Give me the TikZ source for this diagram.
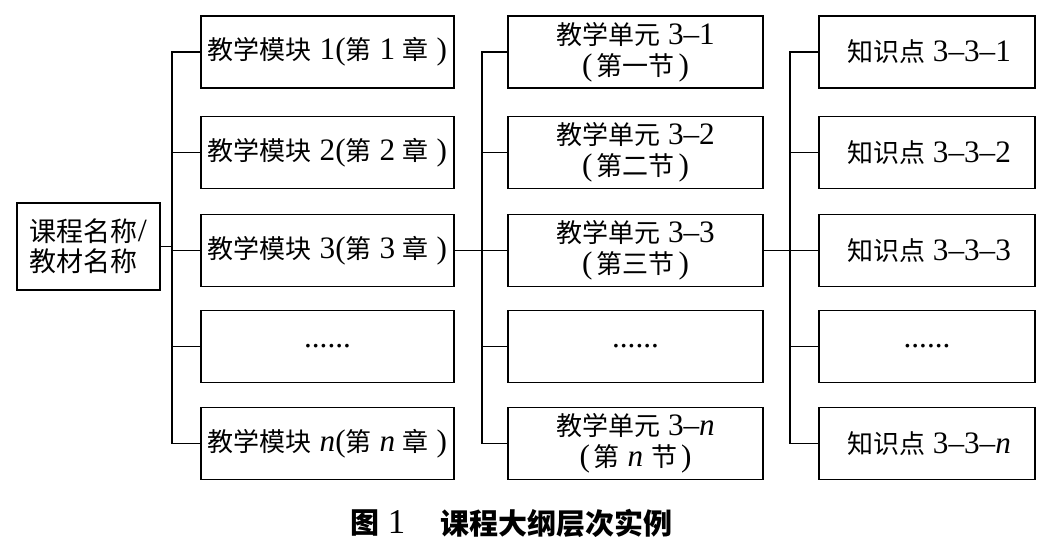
\documentclass[tikz,border=0pt]{standalone}
\usepackage{fontspec}
\setmainfont{Liberation Serif}[Scale=1.2]
\newfontfamily\cjk{Noto Sans CJK SC}
\newcommand\zh[1]{{\cjk #1}}
\newcommand\zhb[1]{{\cjk\bfseries #1}}
\newcommand\lp{(\kern4pt}
\newcommand\rp{\kern4pt)}
\begin{document}
\begin{tikzpicture}[x=1pt,y=-1pt,
  box/.style={draw, line width=1.5pt, inner sep=0pt, minimum height=72pt,
    font=\fontsize{26}{31}\selectfont, align=center},
  colb/.style={box, minimum width=253pt},
  colc/.style={box, minimum width=255pt},
  cold/.style={box, minimum width=216pt},
  link/.style={line width=1.2pt}]
\useasboundingbox (0,0) rectangle (1041,552);
% root
\node[box, minimum width=143pt, minimum height=87pt, align=left,
  font=\fontsize{27}{30}\selectfont] (root) at (88.5,246.5)
  {\zh{课程名称}/\\\zh{教材名称}};
% column 2
\node[colb] (m1) at (327.5,52)    {\zh{教学模块} 1(\zh{第} 1 \zh{章} )};
\node[colb] (m2) at (327.5,152.5) {\zh{教学模块} 2(\zh{第} 2 \zh{章} )};
\node[colb] (m3) at (327.5,250.5) {\zh{教学模块} 3(\zh{第} 3 \zh{章} )};
\node[colb] (m4) at (327.5,346.5) {......};
\node[colb] (m5) at (327.5,443.5) {\zh{教学模块} \textit{n}(\zh{第} \textit{n} \zh{章} )};
% column 3
\node[colc] (u1) at (635.5,52)    {\zh{教学单元} 3–1\\\lp\zh{第一节}\rp};
\node[colc] (u2) at (635.5,152.5) {\zh{教学单元} 3–2\\\lp\zh{第二节}\rp};
\node[colc] (u3) at (635.5,250.5) {\zh{教学单元} 3–3\\\lp\zh{第三节}\rp};
\node[colc] (u4) at (635.5,346.5) {......};
\node[colc] (u5) at (635.5,443.5) {\zh{教学单元} 3–\textit{n}\\\lp\zh{第} \textit{n} \zh{节}\rp};
% column 4
\node[cold] (k1) at (927,52)    {\hspace*{4pt}\zh{知识点} 3–3–1};
\node[cold] (k2) at (927,152.5) {\hspace*{4pt}\zh{知识点} 3–3–2};
\node[cold] (k3) at (927,250.5) {\hspace*{4pt}\zh{知识点} 3–3–3};
\node[cold] (k4) at (927,346.5) {......};
\node[cold] (k5) at (927,443.5) {\hspace*{4pt}\zh{知识点} 3–3–\textit{n}};
% trunks
\coordinate (j2) at (172,0);
\coordinate (j3) at (482,0);
\coordinate (j4) at (790,0);
% connectors column 2
\draw[link] (m1.west) -- (m1.west -| j2) -- (m5.west -| j2) -- (m5.west);
\draw[link] (m2.west) -- (m2.west -| j2);
\draw[link] (m3.west) -- (m3.west -| j2);
\draw[link] (m4.west) -- (m4.west -| j2);
\draw[link] (root.east) -- (root.east -| j2);
% connectors column 3
\draw[link] (u1.west) -- (u1.west -| j3) -- (u5.west -| j3) -- (u5.west);
\draw[link] (u2.west) -- (u2.west -| j3);
\draw[link] (u4.west) -- (u4.west -| j3);
\draw[link] (m3.east) -- (u3.west);
% connectors column 4
\draw[link] (k1.west) -- (k1.west -| j4) -- (k5.west -| j4) -- (k5.west);
\draw[link] (k2.west) -- (k2.west -| j4);
\draw[link] (k4.west) -- (k4.west -| j4);
\draw[link] (u3.east) -- (k3.west);
% caption
\node[anchor=west, inner sep=0pt, font=\fontsize{29}{33}\selectfont] (fig) at (350,523) {\zhb{图} 1};
\node[anchor=west, inner sep=0pt, font=\fontsize{29}{33}\selectfont] (cap) at (440,523) {\zhb{课程大纲层次实例}};
\end{tikzpicture}
\end{document}
